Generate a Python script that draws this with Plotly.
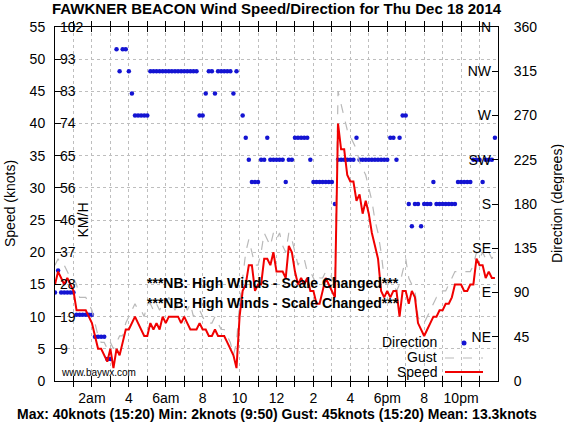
import plotly.graph_objects as go

# ---------------- data (10-minute samples, Thu Dec 18 2014) ----------------
minutes = list(range(0, 1440, 10))

speed_knots = [
    15, 17, 16, 15, 16, 15, 14, 11, 11, 11,
    11, 10, 9, 7, 5, 5, 4, 3, 5, 2,
    5, 4, 6, 8, 8, 9, 10, 9, 8, 7,
    7, 9, 8, 9, 8, 10, 9, 10, 10, 10,
    10, 9, 10, 9, 8, 8, 8, 9, 8, 8,
    7, 7, 8, 7, 7, 7, 6, 5, 4, 2,
    10, 14, 15, 18, 18, 14, 15, 15, 19, 19,
    18, 20, 17, 17, 17, 16, 21, 20, 17, 15,
    16, 15, 16, 14, 14, 12, 12, 14, 16, 15,
    14, 13, 40, 36, 36, 32, 31, 31, 28, 29,
    26, 28, 26, 23, 21, 19, 14, 13, 14, 13,
    14, 14, 10, 14, 14, 12, 14, 13, 9, 8,
    7, 8, 9, 10, 10, 11, 11, 12, 12, 13,
    15, 15, 15, 14, 14, 15, 15, 19, 18, 18,
    16, 17, 16, 16,
]

gust_knots = [
    18, 19, 18, 18, 17, 16, 16, 15, 13, 13,
    13, 12, 11, 9, 7, 6, 6, 5, 6, 5,
    6, 7, 7, 9, 10, 11, 12, 11, 11, 10,
    12, 12, 11, 12, 11, 12, 12, 13, 12, 11,
    12, 12, 12, 11, 12, 10, 11, 11, 10, 9,
    9, 9, 10, 9, 8, 8, 7, 6, 4, 6,
    12, 16, 20, 22, 20, 18, 18, 20, 23, 22,
    21, 23, 22, 23, 21, 20, 23, 22, 20, 18,
    19, 19, 17, 17, 16, 15, 16, 16, 17, 17,
    16, 15, 45, 43, 41, 39, 38, 37, 36, 34,
    33, 32, 30, 28, 25, 23, 20, 16, 15, 15,
    15, 14, 15, 17, 19, 16, 15, 14, 10, 9,
    9, 10, 11, 12, 13, 13, 14, 14, 15, 16,
    17, 17, 17, 17, 17, 17, 18, 20, 19, 20,
    19, 20, 19, 20,
]

direction_deg = [
    90, 112.5, 90, 90, 90, 90, 90, 67.5, 67.5, 67.5,
    67.5, 67.5, 67.5, 45, 45, 45, 45, 22.5, 22.5, None,
    337.5, 315, 337.5, 337.5, 315, 292.5, 270, 270, 270, 270,
    270, 315, 315, 315, 315, 315, 315, 315, 315, 315,
    315, 315, 315, 315, 315, 315, 315, 270, 270, 292.5,
    315, 315, 292.5, 315, 315, 315, 315, 315, 292.5, 315,
    None, 270, 247.5, 225, 202.5, 202.5, 202.5, 225, 225, 247.5,
    225, 225, 225, 225, 225, 202.5, 225, 225, 247.5, 247.5,
    247.5, 247.5, 247.5, 225, 202.5, 202.5, 202.5, 202.5, 202.5, 202.5,
    202.5, 180, 225, 225, 225, 225, 225, 225, 247.5, 225,
    225, 225, 225, 225, 225, 225, 225, 225, 225, 247.5,
    247.5, 225, 247.5, 270, 270, 180, 157.5, 180, 180, 157.5,
    180, 180, 180, 202.5, 180, 180, 180, 180, 180, 180,
    180, 202.5, 202.5, 202.5, 202.5, 202.5, 225, 225, 225, 202.5,
    225, 225, 225, 247.5,
]

hour_ticks = list(range(1, 24))
hour_labels = ["", "2am", "", "4", "", "6am", "", "8", "", "10", "", "12",
               "", "2", "", "4", "", "6pm", "", "8", "", "10pm", ""]

knot_ticks = list(range(0, 56, 5))
kmh_ticks = list(range(5, 56, 5))
kmh_labels = ["9", "19", "28", "37", "46", "56", "65", "74", "83", "93", "102"]

deg_ticks = list(range(0, 361, 45))
compass_ticks = list(range(45, 361, 45))
compass_labels = ["NE", "E", "SE", "S", "SW", "W", "NW", "N"]

title_text = "FAWKNER BEACON Wind Speed/Direction for Thu Dec 18 2014"
summary_text = ("Max: 40knots (15:20) Min: 2knots (9:50) "
                "Gust: 45knots (15:20) Mean: 13.3knots")
notice_text = "***NB: High Winds - Scale Changed***"

hours = [m / 60 for m in minutes]

# ---------------- figure ----------------
FONT = "Liberation Sans, Arial, Helvetica, sans-serif"
W, H = 564, 424
L, R, T, B = 55, 66, 27, 43
PW, PH = W - L - R, H - T - B


def px(xp):
    return (xp - L) / PW


def py(yp):
    return (H - B - yp) / PH


fig = go.Figure()

fig.add_trace(go.Scatter(
    x=hours, y=direction_deg, mode="markers", name="Direction",
    marker=dict(color="rgb(20,20,210)", size=4.5),
    yaxis="y", showlegend=False, hoverinfo="skip"))

fig.add_trace(go.Scatter(
    x=hours, y=gust_knots, mode="lines", name="Gust",
    line=dict(color="rgb(185,185,185)", width=1.2, dash="dash"),
    yaxis="y2", showlegend=False, hoverinfo="skip"))

fig.add_trace(go.Scatter(
    x=hours, y=speed_knots, mode="lines", name="Speed",
    line=dict(color="rgb(240,0,0)", width=2),
    yaxis="y2", showlegend=False, hoverinfo="skip"))

# empty carriers for the inner label axes
fig.add_trace(go.Scatter(x=[], y=[], yaxis="y3", showlegend=False, hoverinfo="skip"))
fig.add_trace(go.Scatter(x=[], y=[], yaxis="y4", showlegend=False, hoverinfo="skip"))

tickfont = dict(family=FONT, size=14, color="black")

fig.update_layout(
    width=W, height=H,
    margin=dict(l=L, r=R, t=T, b=B, autoexpand=False),
    paper_bgcolor="white", plot_bgcolor="white",
    font=dict(family=FONT, size=14, color="black"),
    showlegend=False,
    xaxis=dict(
        range=[0, 24], tickmode="array", tickvals=hour_ticks, ticktext=hour_labels,
        showgrid=True, gridcolor="rgb(190,190,190)", griddash="dot", gridwidth=1,
        ticks="inside", ticklen=5, tickcolor="black",
        showline=True, linecolor="black", linewidth=1, mirror="allticks",
        zeroline=False, tickfont=tickfont, ticklabelstandoff=4,
    ),
    yaxis=dict(
        range=[0, 360], side="right", tickmode="array", tickvals=deg_ticks,
        showgrid=False, zeroline=False,
        ticks="inside", ticklen=6, tickcolor="black",
        showline=True, linecolor="black", linewidth=1,
        tickfont=tickfont, ticklabelstandoff=12,
    ),
    yaxis2=dict(
        range=[0, 55], side="left", overlaying="y", anchor="x",
        tickmode="array", tickvals=knot_ticks,
        showgrid=True, gridcolor="rgb(190,190,190)", griddash="dot", gridwidth=1,
        zeroline=False, ticks="inside", ticklen=6, tickcolor="black",
        showline=True, linecolor="black", linewidth=1,
        tickfont=tickfont, ticklabelstandoff=6,
    ),
    yaxis3=dict(
        range=[0, 55], side="left", overlaying="y", anchor="x",
        tickmode="array", tickvals=kmh_ticks, ticktext=kmh_labels,
        ticklabelposition="inside", ticklabeloverflow="allow",
        showgrid=False, zeroline=False,
        showline=False, ticks="", tickfont=tickfont, ticklabelstandoff=2,
    ),
    yaxis4=dict(
        range=[0, 360], side="right", overlaying="y", anchor="x",
        tickmode="array", tickvals=compass_ticks, ticktext=compass_labels,
        ticklabelposition="inside", ticklabeloverflow="allow",
        showgrid=False, zeroline=False,
        showline=False, ticks="", tickfont=tickfont, ticklabelstandoff=4,
    ),
)

ann = []
ann.append(dict(text="<b>" + title_text + "</b>", x=px(277), y=py(8),
                xanchor="center", yanchor="middle", font=dict(size=15)))
ann.append(dict(text="<b>" + summary_text + "</b>", x=px(277), y=py(414),
                xanchor="center", yanchor="middle", font=dict(size=14)))
ann.append(dict(text="Speed (knots)", x=px(10), y=py(204), textangle=-90,
                xanchor="center", yanchor="middle", font=dict(size=14)))
ann.append(dict(text="Direction (degrees)", x=px(557), y=py(204), textangle=-90,
                xanchor="center", yanchor="middle", font=dict(size=14)))
ann.append(dict(text="KM/H", x=px(82.5), y=py(220), textangle=-90,
                xanchor="center", yanchor="middle", font=dict(size=14)))
ann.append(dict(text="www.baywx.com", x=px(59), y=py(372),
                xanchor="left", yanchor="middle", font=dict(size=10)))
for yy in (283, 303):
    ann.append(dict(text="<b>" + notice_text + "</b>", x=px(273), y=py(yy),
                    xanchor="center", yanchor="middle", font=dict(size=14)))
# legend (gnuplot style: label left, sample right)
for label, yy in (("Direction", 342), ("Gust", 357), ("Speed", 372)):
    ann.append(dict(text=label, x=px(438), y=py(yy), borderpad=0,
                    xanchor="right", yanchor="middle", font=dict(size=14)))
for a in ann:
    a.update(xref="paper", yref="paper", showarrow=False)
fig.update_layout(annotations=ann)

shapes = [
    dict(type="line", xref="paper", yref="paper", x0=px(445), x1=px(483),
         y0=py(358), y1=py(358),
         line=dict(color="rgb(185,185,185)", width=1.2, dash="dash")),
    dict(type="line", xref="paper", yref="paper", x0=px(445), x1=px(483),
         y0=py(372), y1=py(372), line=dict(color="rgb(240,0,0)", width=2)),
    dict(type="circle", xref="paper", yref="paper",
         xsizemode="pixel", ysizemode="pixel",
         xanchor=px(464), yanchor=py(343), x0=-2.5, x1=2.5, y0=-2.5, y1=2.5,
         fillcolor="rgb(20,20,210)", line=dict(width=0)),
]
fig.update_layout(shapes=shapes)

fig.write_html(
    "out.html",
    config={"displayModeBar": False},
    post_script="document.body.style.margin='0';document.body.style.padding='0';",
)
